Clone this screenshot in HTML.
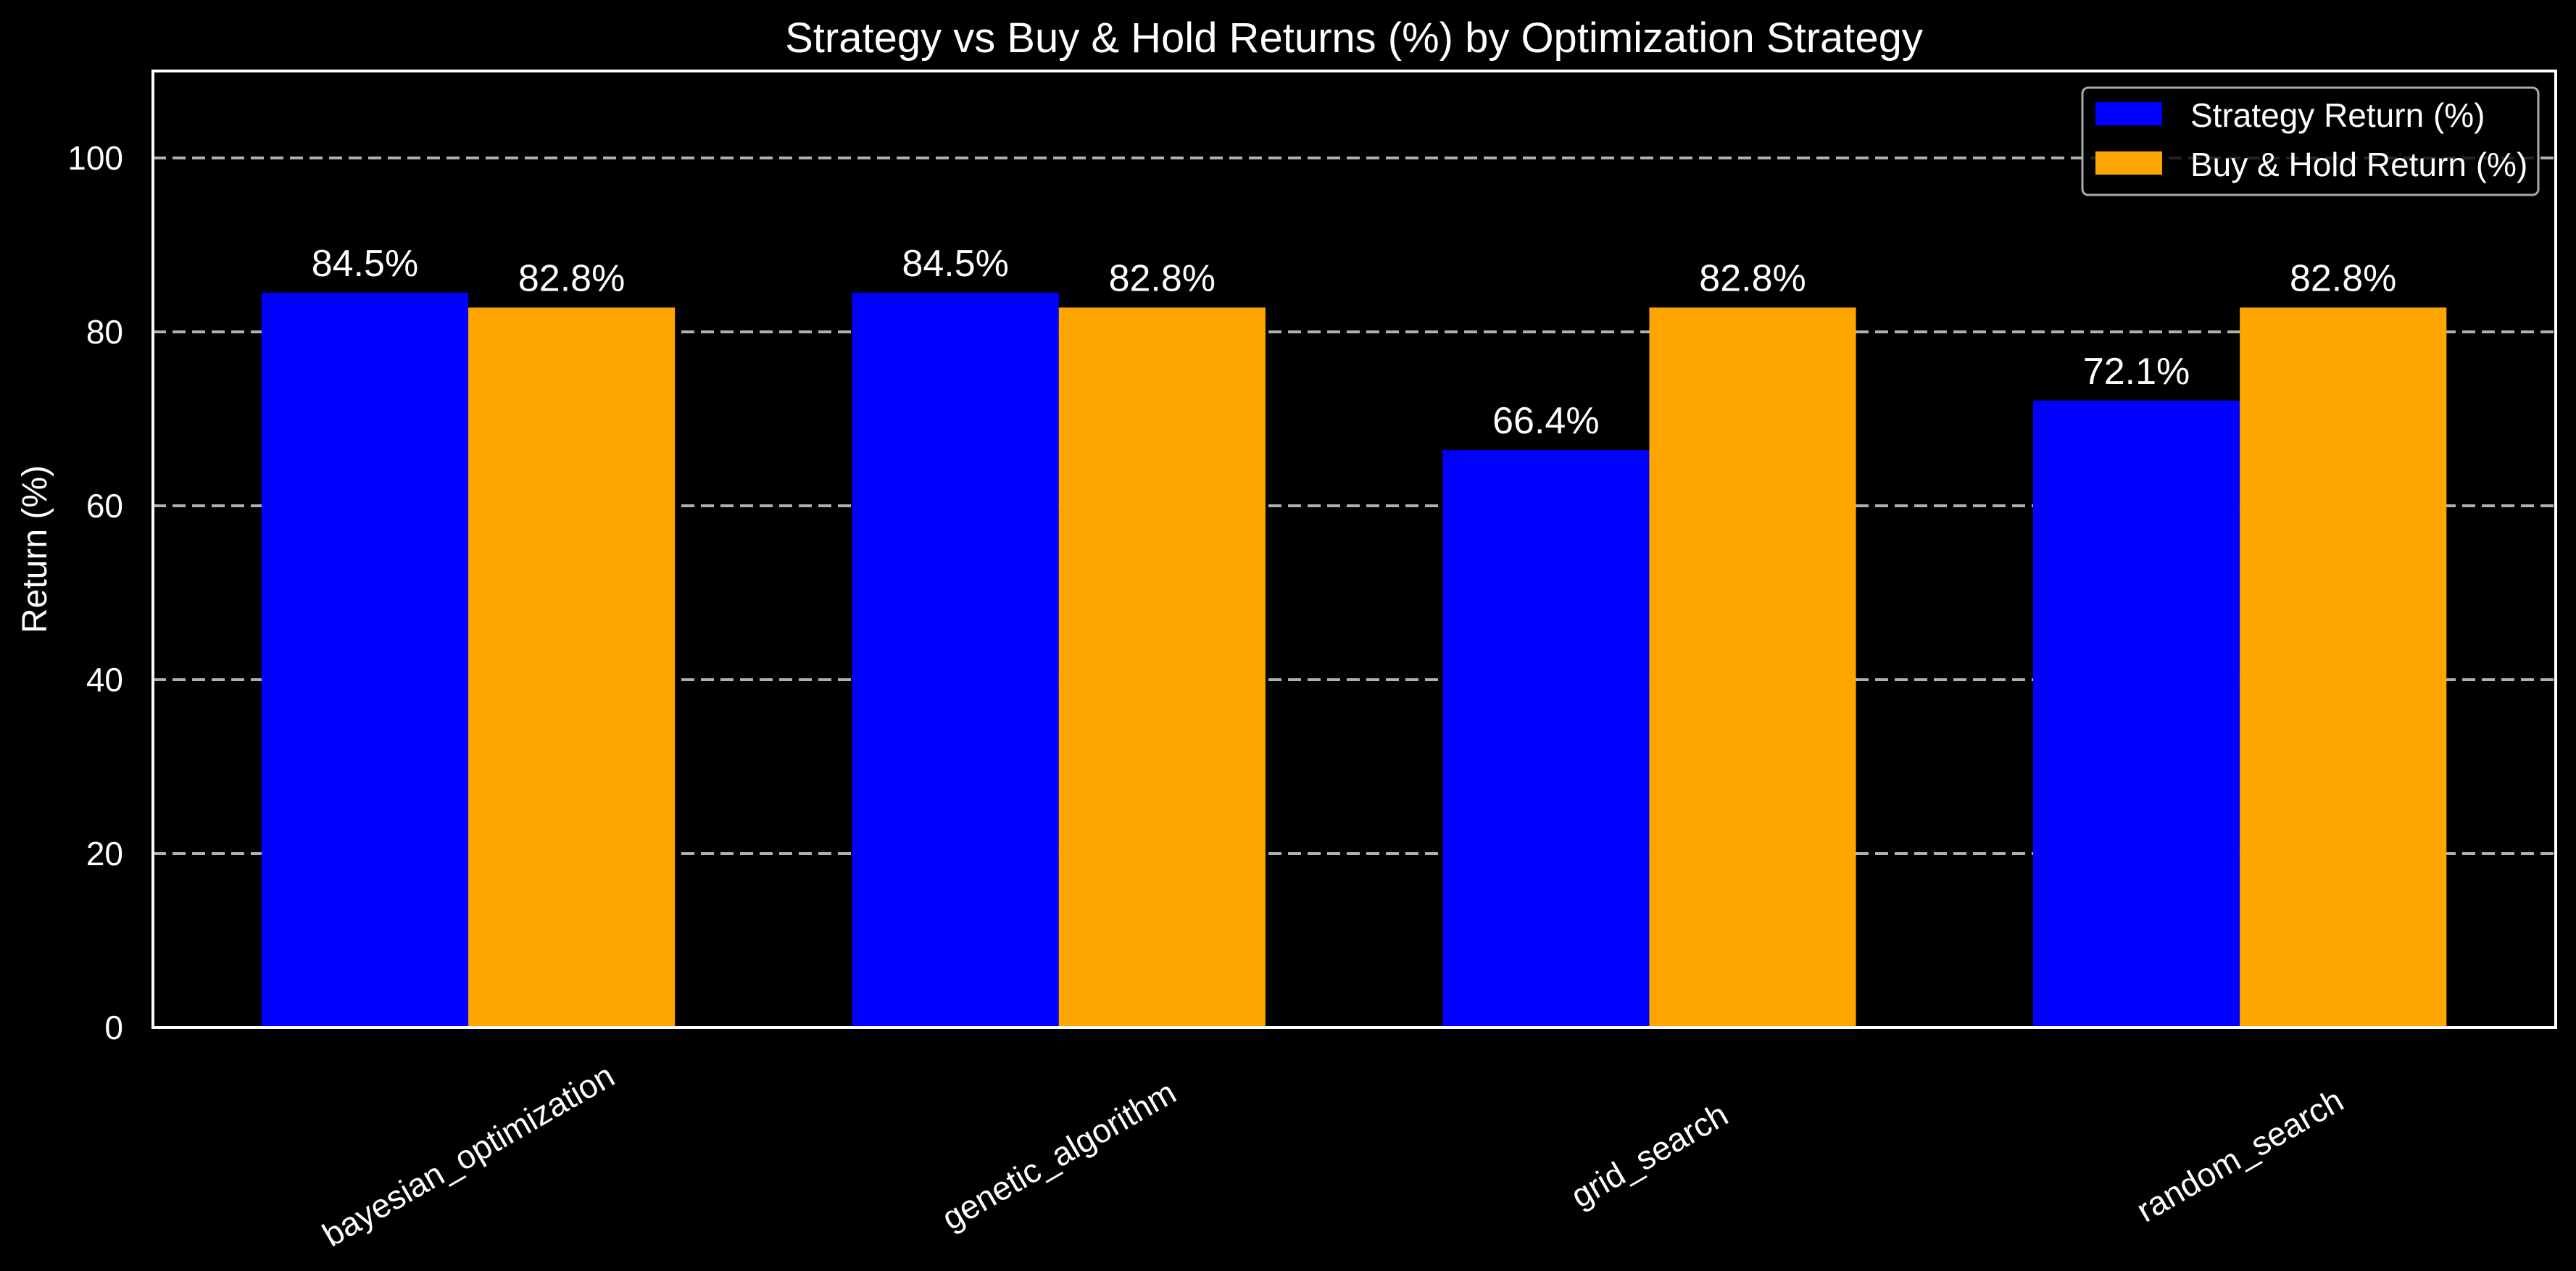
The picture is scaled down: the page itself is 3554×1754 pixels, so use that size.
<!DOCTYPE html>
<html><head><meta charset="utf-8"><style>
html,body{margin:0;padding:0;background:#000;}
svg{display:block;font-family:"Liberation Sans",Arial,sans-serif;}
</style></head><body>
<svg id="chart" width="3554" height="1754" viewBox="0 0 3554 1754" xmlns="http://www.w3.org/2000/svg">
<rect width="3554" height="1754" fill="#000"/>
<text x="1868" y="72" font-size="58" fill="#fff" text-anchor="middle">Strategy vs Buy &amp; Hold Returns (%) by Optimization Strategy</text>
<text transform="translate(64,758) rotate(-90)" font-size="48" fill="#fff" text-anchor="middle">Return (%)</text>
<g id="grid"></g>
<g id="bars"></g>
<g id="labels"></g>
<g id="yticks"></g>
<g id="xticks"></g>
<rect x="211" y="98" width="3315" height="1320" fill="none" stroke="#fff" stroke-width="4"/>
<g>
<rect x="2873" y="121" width="629" height="148" rx="8" fill="#000" fill-opacity="0.8" stroke="#aaa" stroke-width="3"/>
<rect x="2891" y="141" width="92" height="32" fill="#0000ff"/>
<text x="3022" y="175" font-size="46" fill="#fff">Strategy Return (%)</text>
<rect x="2891" y="209" width="92" height="32" fill="#ffa500"/>
<text x="3022" y="243" font-size="46" fill="#fff">Buy &amp; Hold Return (%)</text>
</g>
</svg>
<script>
const categories = ["bayesian_optimization","genetic_algorithm","grid_search","random_search"];
const strategyReturns = [84.5, 84.5, 66.4, 72.1];
const buyHoldReturns = [82.8, 82.8, 82.8, 82.8];
const yTicks = [0, 20, 40, 60, 80, 100];

const NS = "http://www.w3.org/2000/svg";
const plotL = 211, plotR = 3526, plotT = 98, plotB = 1418;
const yMax = 110, xMin = -0.534, xMax = 3.535, barW = 0.35;
function yScale(v){ return plotB - (v / yMax) * (plotB - plotT); }
function xScale(i){ return plotL + (i - xMin) / (xMax - xMin) * (plotR - plotL); }
function mk(tag, attrs, parent, text){
  const e = document.createElementNS(NS, tag);
  for (const k in attrs) e.setAttribute(k, attrs[k]);
  if (text !== undefined) e.textContent = text;
  parent.appendChild(e);
  return e;
}
const grid = document.getElementById('grid');
const yt = document.getElementById('yticks');
yTicks.forEach(t => {
  const y = yScale(t);
  if (t > 0) {
    const l = mk('line', {x1: plotL, x2: plotR, y1: y, y2: y, stroke: '#b0b0b0', 'stroke-width': 4, 'stroke-dasharray': '18 9'}, grid);
    
    
  }
  const tx = mk('text', {x: 170, y: y + 16, 'font-size': 46, fill: '#fff', 'text-anchor': 'end'}, yt, String(t));
  
  
});
const bars = document.getElementById('bars');
const labels = document.getElementById('labels');
const xt = document.getElementById('xticks');
const wpx = barW / (xMax - xMin) * (plotR - plotL);
categories.forEach((c, i) => {
  const cx = xScale(i);
  [[strategyReturns[i], '#0000ff', cx - wpx, 'strategy'], [buyHoldReturns[i], '#ffa500', cx, 'buyhold']].forEach(([v, col, x, s]) => {
    const y = yScale(v);
    const r = mk('rect', {x: x, y: y, width: wpx, height: plotB - y, fill: col}, bars);
    
    
    const t = mk('text', {x: x + wpx / 2, y: y - 23, 'font-size': 52, fill: '#fff', 'text-anchor': 'middle'}, labels, v.toFixed(1) + '%');
    
    
  });
  const lt = mk('text', {transform: 'translate(' + cx + ',1594) rotate(-30)', 'font-size': 46, fill: '#fff', 'text-anchor': 'middle', 'dominant-baseline': 'central'}, xt, c);
  
  
});
</script>
</body></html>
